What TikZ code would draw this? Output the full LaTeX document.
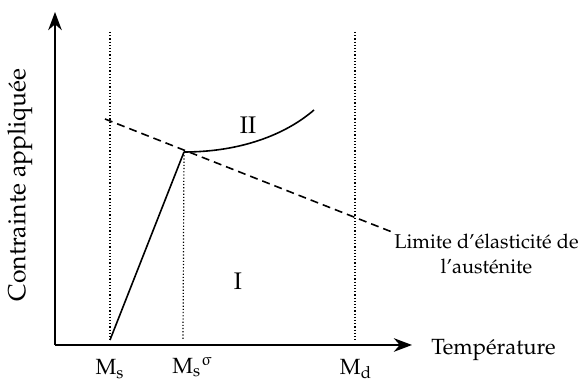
\documentclass[tikz,border=0pt]{standalone}
\usepackage[T1]{fontenc}
\usepackage{mathpazo}
\usepackage{upgreek}
\usetikzlibrary{arrows.meta}

\begin{document}
\begin{tikzpicture}[
  x=0.5pt, y=-0.5pt,
  axis/.style={thick, -{Stealth[length=3.2mm, width=2.4mm]}},
  guide/.style={densely dotted, line width=0.6pt},
  limit/.style={thick, dash pattern=on 4pt off 2.5pt},
  curve/.style={thick},
  lbl/.style={font=\fontsize{11}{13}\selectfont, inner sep=1pt}
]
\useasboundingbox (0,0) rectangle (584,383);

\coordinate (origin) at (55,345);
\coordinate (ytip) at (55,12);
\coordinate (xtip) at (412,345);
\coordinate (msbot) at (110,340);
\coordinate (mstop) at (110,32);
\coordinate (mssbot) at (183,340);
\coordinate (mdtop) at (355,32);
\coordinate (mdbot) at (355,340);
\coordinate (knee) at (184,152);
\coordinate (limstart) at (105,119);
\coordinate (curveend) at (314,110);

\node[lbl, rotate=90, font=\fontsize{12.4}{14}\selectfont] (ylabel) at (20,185) {Contrainte appliquée};
\node[lbl, anchor=west] (xlabel) at (429,350) {Température};
\node[lbl] (ms) at (110,369) {M$_\mathrm{s}$};
\node[lbl, anchor=west] (mss) at (170,367) {M$_\mathrm{s}$$^\upsigma$};
\node[lbl] (md) at (356,369) {M$_\mathrm{d}$};
\node[lbl, font=\fontsize{12}{14}\selectfont] (one) at (238,281) {I};
\node[lbl, font=\fontsize{12}{14}\selectfont] (two) at (248,125) {II};
\node[lbl, anchor=north west, align=center, font=\fontsize{10}{12.5}\selectfont] (austenite) at (392,232) {Limite d'élasticité de\\l'austénite};

\draw[guide] (mstop) -- (msbot);
\draw[guide] (knee) -- (mssbot);
\draw[guide] (mdtop) -- (mdbot);

\draw[axis] (origin) -- (ytip);
\draw[axis] (origin) -- (xtip);

\draw[limit] (limstart) -- (austenite.north west);
\draw[curve] (msbot) -- (knee);
\draw[curve] (knee) .. controls (240,152) and (285,135) .. (curveend);

\end{tikzpicture}
\end{document}
